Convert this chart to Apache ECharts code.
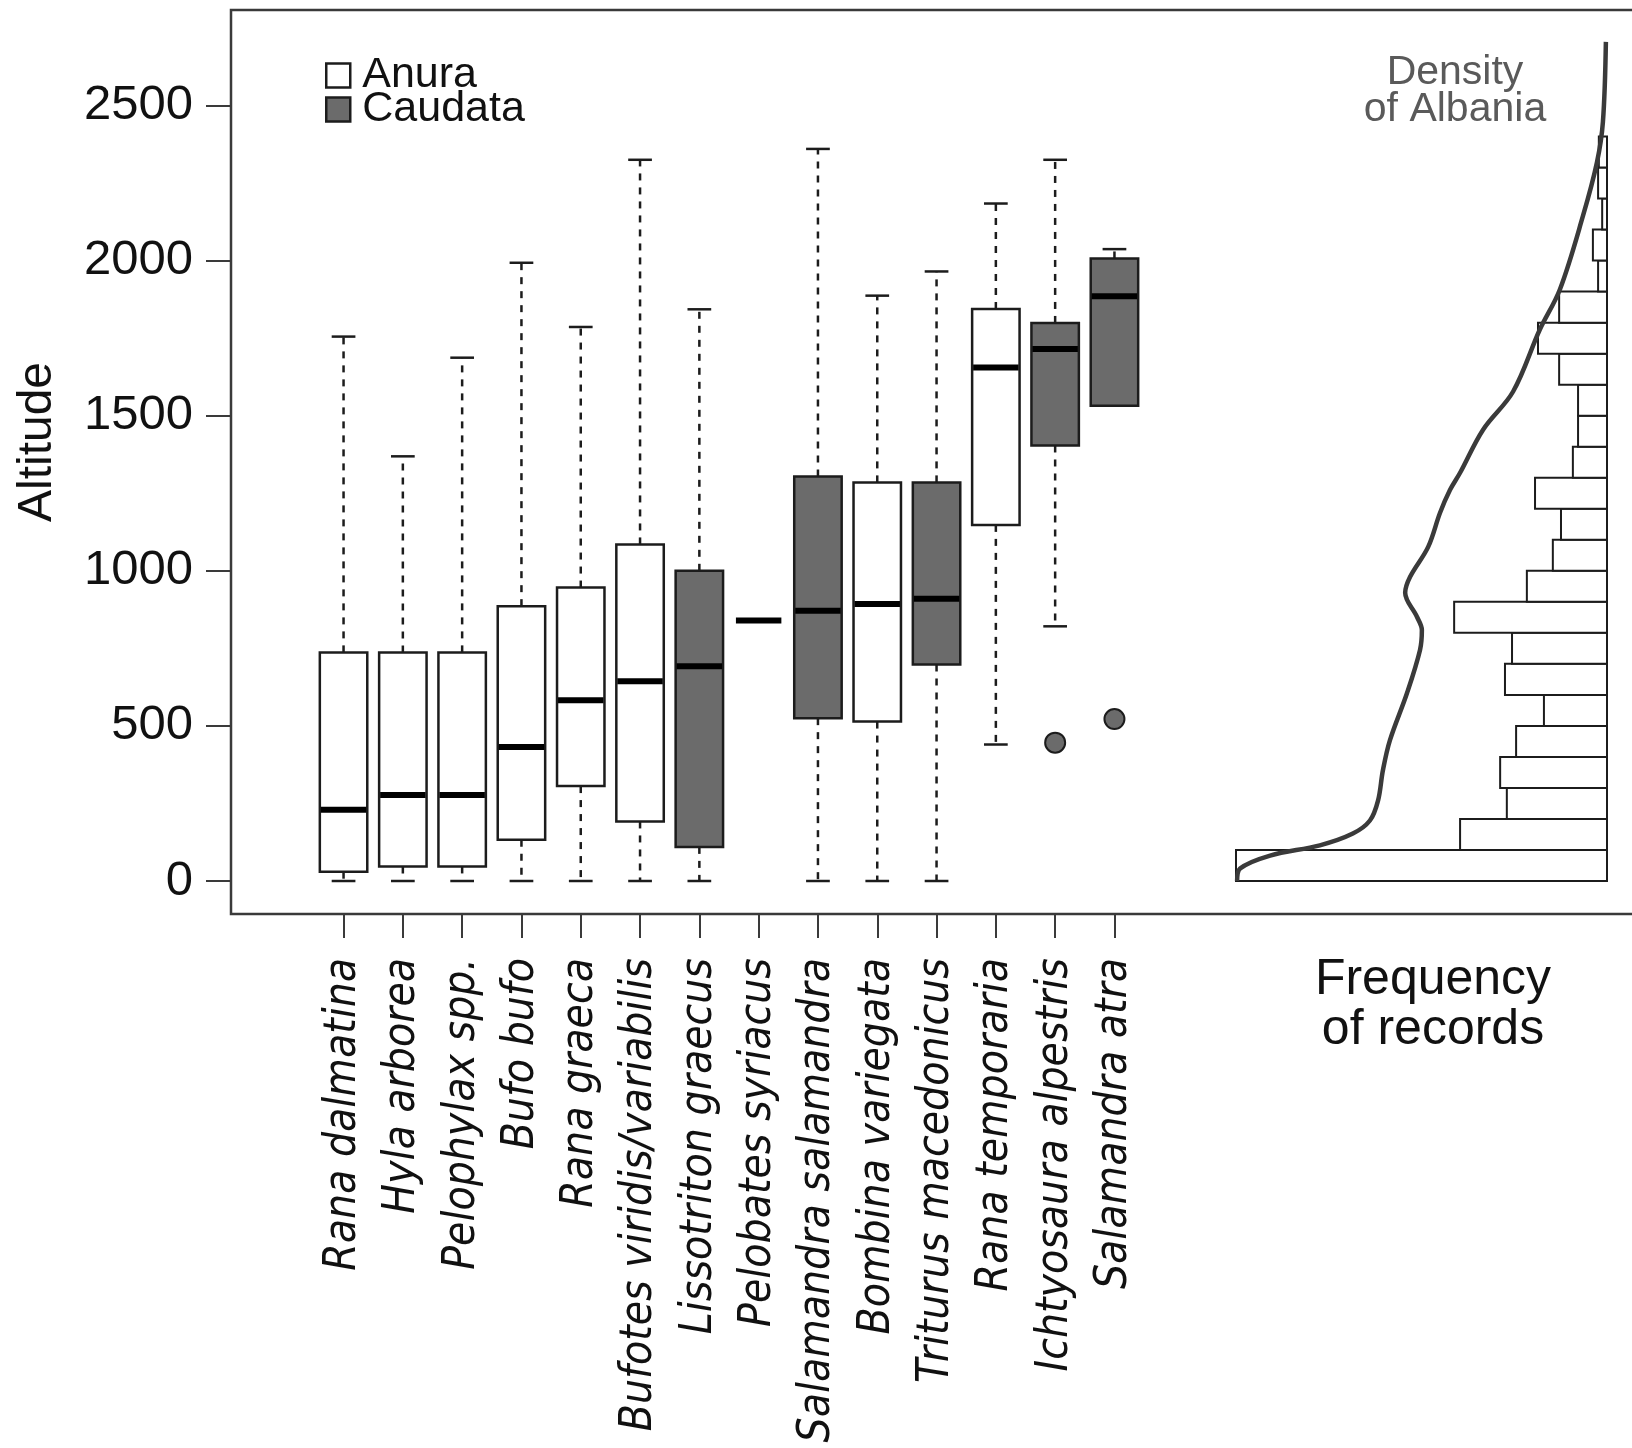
<!DOCTYPE html>
<html>
<head>
<meta charset="utf-8">
<script src="https://cdn.jsdelivr.net/npm/echarts@6/dist/echarts.min.js"></script>
<style>
    html, body { margin: 0; padding: 0; background: #fff; }
    #chart { width: 1632px; height: 1448px; }
</style>
</head>
<body>
<div id="chart"></div>
<script>
// species in plot order, and their order (Anura / Caudata)
const species = ['Rana dalmatina', 'Hyla arborea', 'Pelophylax spp.', 'Bufo bufo', 'Rana graeca',
    'Bufotes viridis/variabilis', 'Lissotriton graecus', 'Pelobates syriacus', 'Salamandra salamandra',
    'Bombina variegata', 'Triturus macedonicus', 'Rana temporaria', 'Ichtyosaura alpestris', 'Salamandra atra'];
const group = ['Anura', 'Anura', 'Anura', 'Anura', 'Anura', 'Anura', 'Caudata', 'Anura', 'Caudata',
    'Anura', 'Caudata', 'Anura', 'Caudata', 'Caudata'];

// boxplot stats (altitude, m)
const whiskerLow  = [0, 0, 0, 0, 0, 0, 0, 840, 0, 0, 0, 440, 821, 1532];
const q1          = [30, 47, 47, 133, 306, 192, 110, 840, 525, 514, 698, 1148, 1404, 1532];
const median      = [230, 277, 277, 432, 583, 644, 692, 840, 871, 893, 910, 1655, 1715, 1885];
const q3          = [737, 737, 737, 886, 946, 1085, 1000, 840, 1304, 1285, 1285, 1844, 1799, 2007];
const whiskerHigh = [1755, 1369, 1687, 1993, 1786, 2325, 1843, 840, 2360, 1887, 1965, 2184, 2325, 2037];

const outlierSpecies = ['Ichtyosaura alpestris', 'Salamandra atra'];
const outlierAltitude = [446, 522];

// histogram of records for Albania (100 m bins)
const binLower = [0, 100, 200, 300, 400, 500, 600, 700, 800, 900, 1000, 1100, 1200, 1300, 1400, 1500,
    1600, 1700, 1800, 1900, 2000, 2100, 2200, 2300];
const binCount = [100, 39.6, 27, 28.8, 24.5, 17, 27.5, 25.6, 41.2, 21.6, 14.6, 12.4, 19.4, 9.2, 7.8, 7.8,
    12.9, 18.6, 12.9, 2.4, 3.8, 1.3, 2.4, 2.2];

// density curve (same scale as histogram)
const densityAlt  = [0, 40, 82, 115, 153, 195, 260, 357, 454, 606, 745, 809, 851, 929, 980, 1077, 1187,
    1261, 1316, 1455, 1578, 1778, 1907, 2143, 2317, 2447, 2705];
const densityFreq = [99.7, 98.9, 90.8, 77.4, 68.5, 63.9, 61.7, 60.4, 58.5, 53.9, 50.4, 49.9, 51.2, 54.4,
    53.1, 48.2, 45.0, 42.3, 39.6, 33.4, 25.3, 18.1, 12.7, 6.5, 2.7, 1.1, 0.3];

const yTicks = [0, 500, 1000, 1500, 2000, 2500];

const fillColor = {Anura: '#ffffff', Caudata: '#6b6b6b'};
const ink = '#1c1c1c';

const boxData = name => species
    .map((s, i) => [i, whiskerLow[i], q1[i], median[i], q3[i], whiskerHigh[i]])
    .filter((d, i) => group[i] === name);

const makeBoxRender = fill => (params, api) => {
    const idx = api.value(0);
    const lo = api.value(1), a = api.value(2), m = api.value(3), b = api.value(4), hi = api.value(5);
    const w = api.size([1, 0])[0] * 0.8;
    const cx = api.coord([idx, m])[0];
    const y = v => api.coord([idx, v])[1];
    const children = [];
    if (b > a) {
        const dash = {stroke: ink, lineWidth: 2.5, lineDash: [7, 7]};
        const solid = {stroke: ink, lineWidth: 2.5};
        children.push({type: 'line', shape: {x1: cx, y1: y(b), x2: cx, y2: y(hi)}, style: dash});
        children.push({type: 'line', shape: {x1: cx, y1: y(a), x2: cx, y2: y(lo)}, style: dash});
        children.push({type: 'line', shape: {x1: cx - w / 4, y1: y(hi), x2: cx + w / 4, y2: y(hi)}, style: solid});
        children.push({type: 'line', shape: {x1: cx - w / 4, y1: y(lo), x2: cx + w / 4, y2: y(lo)}, style: solid});
        children.push({type: 'rect', shape: {x: cx - w / 2, y: y(b), width: w, height: y(a) - y(b)},
            style: {fill: fill, stroke: ink, lineWidth: 2.5}});
    }
    children.push({type: 'line', shape: {x1: cx - w / 2 + 1, y1: y(m), x2: cx + w / 2 - 1, y2: y(m)},
        style: {stroke: '#000', lineWidth: 6}});
    return {type: 'group', children};
};

const renderBin = (params, api) => {
    const p1 = api.coord([api.value(2), api.value(1)]);
    const p0 = api.coord([0, api.value(0)]);
    return {type: 'rect', shape: {x: p1[0], y: p1[1], width: p0[0] - p1[0], height: p0[1] - p1[1]},
        style: {fill: '#fff', stroke: ink, lineWidth: 2}};
};

const chart = echarts.init(document.getElementById('chart'), null, {renderer: 'canvas'});
const font = 'Liberation Sans';
const noBounds = {outerBoundsMode: 'none', containLabel: false};

const options = {
    backgroundColor: '#fff',
    animation: false,
    grid: [
        // outer frame
        {left: 231, top: 10, width: 1412, height: 904, show: true, borderColor: '#3a3a3a', borderWidth: 2.5,
            backgroundColor: 'transparent', ...noBounds},
        // boxplots
        {left: 313.9, top: 105.5, width: 830.2, height: 775.5, ...noBounds},
        // histogram
        {left: 1236, top: 105.5, width: 371, height: 775.5, ...noBounds},
        // species axis, sitting on the frame's bottom edge
        {left: 313.9, top: 10, width: 830.2, height: 904, ...noBounds}
    ],
    xAxis: [
        {gridIndex: 0, type: 'value', show: false, min: 0, max: 1},
        {gridIndex: 1, type: 'category', data: species, show: false},
        {gridIndex: 2, type: 'value', show: false, inverse: true, min: 0, max: 100},
        {
            gridIndex: 3, type: 'category', data: species,
            axisLine: {show: false},
            axisTick: {show: true, alignWithLabel: true, length: 24, lineStyle: {color: '#3a3a3a', width: 2}},
            axisLabel: {
                rotate: 90, margin: 44, interval: 0, color: '#111',
                fontFamily: "'Liberation Sans Narrow', 'DejaVu Sans Condensed', sans-serif",
                fontStyle: 'italic', fontSize: 44
            },
            splitLine: {show: false}
        }
    ],
    yAxis: [
        {gridIndex: 0, type: 'value', show: false, min: 0, max: 1},
        {
            gridIndex: 1, type: 'value', min: yTicks[0], max: yTicks[yTicks.length - 1], interval: 500,
            offset: 82.9,
            axisLine: {show: false},
            axisTick: {show: true, length: 25, lineStyle: {color: '#3a3a3a', width: 2}},
            axisLabel: {margin: 38, fontSize: 49, fontFamily: font, color: '#111',
                formatter: v => String(v)},
            splitLine: {show: false}
        },
        {gridIndex: 2, type: 'value', show: false, min: 0, max: 2500},
        {gridIndex: 3, type: 'value', show: false, min: 0, max: 1}
    ],
    legend: {
        orient: 'vertical', left: 320, top: 49, itemWidth: 24, itemHeight: 24, itemGap: -9,
        icon: 'rect', selectedMode: false,
        textStyle: {fontSize: 43, fontFamily: font, color: '#111', padding: [0, 0, 0, 7]},
        data: [
            {name: 'Anura', itemStyle: {color: fillColor.Anura, borderColor: ink, borderWidth: 2.5}},
            {name: 'Caudata', itemStyle: {color: fillColor.Caudata, borderColor: ink, borderWidth: 2.5}}
        ]
    },
    graphic: [
        {type: 'text', x: 38, y: 442, rotation: Math.PI / 2,
            style: {text: 'Altitude', font: '48px "Liberation Sans"', fill: '#111',
                textAlign: 'center', textVerticalAlign: 'middle', align: 'center', verticalAlign: 'middle'}},
        {type: 'text', x: 1455, y: 91, z: 10,
            style: {text: 'Density\nof Albania', font: '41px "Liberation Sans"', fill: '#5a5a5a', lineHeight: 37,
                textAlign: 'center', textVerticalAlign: 'middle', align: 'center', verticalAlign: 'middle'}},
        {type: 'text', x: 1433, y: 1005,
            style: {text: 'Frequency\nof records', font: '50px "Liberation Sans"', fill: '#111', lineHeight: 50,
                textAlign: 'center', textVerticalAlign: 'middle', align: 'center', verticalAlign: 'middle'}}
    ],
    series: [
        {
            name: 'Anura', type: 'custom', xAxisIndex: 1, yAxisIndex: 1,
            itemStyle: {color: fillColor.Anura, borderColor: ink},
            renderItem: makeBoxRender(fillColor.Anura),
            encode: {x: 0, y: [1, 2, 3, 4, 5]},
            data: boxData('Anura')
        },
        {
            name: 'Caudata', type: 'custom', xAxisIndex: 1, yAxisIndex: 1,
            itemStyle: {color: fillColor.Caudata, borderColor: ink},
            renderItem: makeBoxRender(fillColor.Caudata),
            encode: {x: 0, y: [1, 2, 3, 4, 5]},
            data: boxData('Caudata')
        },
        {
            name: 'outliers', type: 'scatter', xAxisIndex: 1, yAxisIndex: 1,
            symbol: 'circle', symbolSize: 20,
            itemStyle: {color: '#6b6b6b', borderColor: ink, borderWidth: 2, opacity: 1},
            data: outlierSpecies.map((s, i) => [species.indexOf(s), outlierAltitude[i]])
        },
        {
            name: 'histogram', type: 'custom', xAxisIndex: 2, yAxisIndex: 2,
            renderItem: renderBin,
            encode: {x: 2, y: [0, 1]},
            data: binLower.map((lo, i) => [lo, lo + 100, binCount[i]])
        },
        {
            name: 'density', type: 'line', xAxisIndex: 2, yAxisIndex: 2,
            clip: false, smooth: 0.35, showSymbol: false, symbol: 'none', z: 5,
            lineStyle: {color: '#3a3a3a', width: 4.5},
            data: densityAlt.map((a, i) => [densityFreq[i], a])
        }
    ]
};

chart.setOption(options);
</script>
</body>
</html>
